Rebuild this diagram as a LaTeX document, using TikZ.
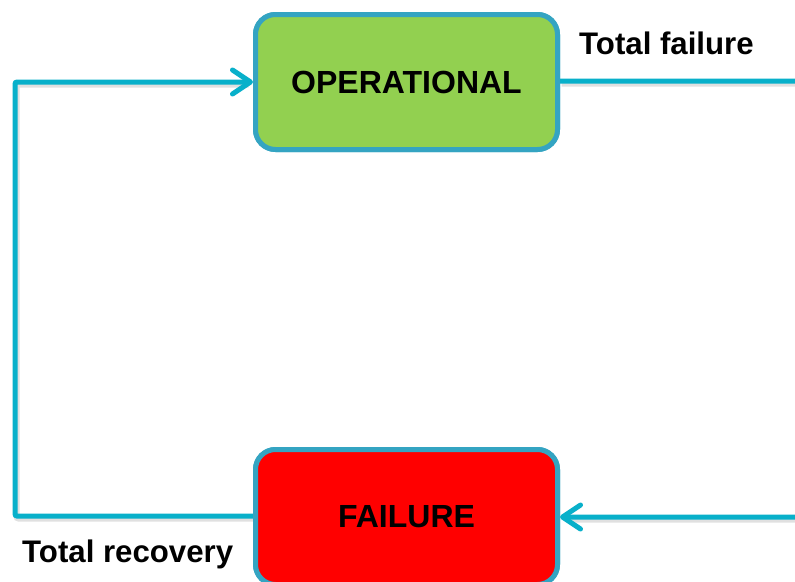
\documentclass[tikz,border=0pt]{standalone}
\usepackage{fontspec}
\setmainfont{Liberation Sans}
\usetikzlibrary{arrows.meta}
\definecolor{flowline}{RGB}{8,176,202}
\definecolor{boxedge}{RGB}{52,164,194}
\definecolor{opgreen}{RGB}{146,208,80}
\definecolor{failred}{RGB}{255,0,0}
\tikzset{
  statebox/.style={draw=boxedge, line width=5pt, rounded corners=20pt,
    minimum width=302pt, minimum height=135pt, inner sep=0pt,
    font=\bfseries\fontsize{32}{37}\selectfont},
  flow/.style={draw=flowline, line width=5pt, rounded corners=2pt,
    -{Straight Barb[length=18pt, width=24pt, line cap=round, line join=round]}},
  flowshadow/.style={draw=black, opacity=0.12, line width=6pt, rounded corners=2pt},
  lbl/.style={font=\bfseries\fontsize{31.2}{35}\selectfont, inner sep=0pt, anchor=base west}
}
\begin{document}
\begin{tikzpicture}[x=1pt, y=-1pt]
  \useasboundingbox (0,0) rectangle (795,581);
  \clip (0,0) rectangle (795,581);
  \fill[white] (0,0) rectangle (795,581);

  % the two states
  \node[statebox, fill=opgreen] (op) at (406.5,82) {OPERATIONAL};
  \node[statebox, fill=failred] (fail) at (406.5,517) {FAILURE};

  % turning points of the loop
  \coordinate (lt) at (15,82);
  \coordinate (lb) at (15,516);
  \coordinate (rt) at (820,81);
  \coordinate (rb) at (820,517);

  % soft shadows under the connectors
  \draw[flowshadow, transform canvas={shift={(1.5pt,-2.5pt)}}]
    (fail.west |- lb) -- (lb) -- (lt) -- ([xshift=-6pt]op.west);
  \draw[flowshadow, transform canvas={shift={(1.5pt,-2.5pt)}}]
    (op.east |- rt) -- (rt) -- (rb) -- ([xshift=6pt]fail.east);

  % connectors
  \draw[flow] (fail.west |- lb) -- (lb) -- (lt) -- (op.west);
  \draw[flow] (op.east |- rt) -- (rt) -- (rb) -- (fail.east);

  % redraw the boxes above the line ends
  \node[statebox, fill=opgreen] at (op) {OPERATIONAL};
  \node[statebox, fill=failred] at (fail) {FAILURE};

  % transition labels
  \node[lbl] (tf) at (579,54.5) {Total failure};
  \node[lbl] (tr) at (22,562) {Total recovery};
\end{tikzpicture}
\end{document}
